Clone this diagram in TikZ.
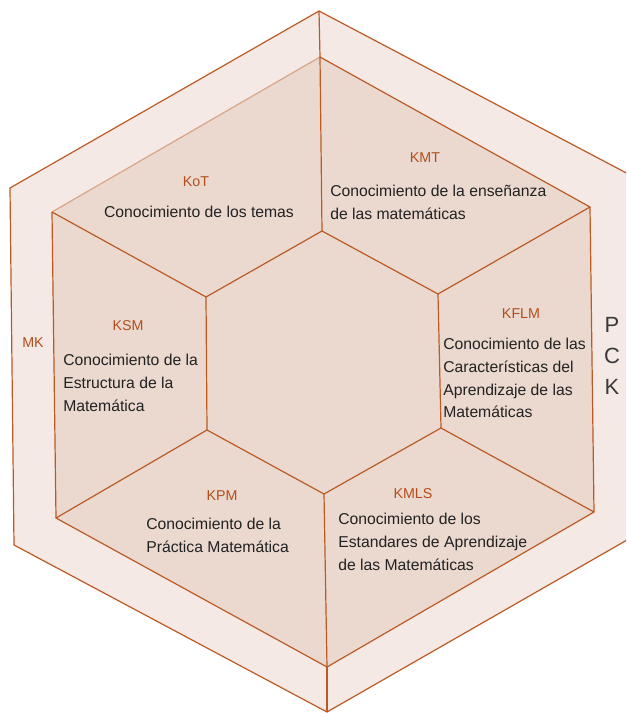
\documentclass[tikz,border=0pt]{standalone}
\usepackage{fontspec}
\setmainfont{Liberation Sans}
\usetikzlibrary{positioning}
\definecolor{banda}{HTML}{F4E9E4}
\definecolor{relleno}{HTML}{EBD9CF}
\definecolor{linea}{HTML}{BC5A24}
\definecolor{rotulo}{HTML}{B24E1C}
\definecolor{texto}{HTML}{222222}
\definecolor{letra}{HTML}{3A3A3A}

\begin{document}
\begin{tikzpicture}[x=0.75pt, y=-0.75pt,
    lin/.style={draw=linea, line width=0.9pt, line join=miter},
    sig/.style={font=\fontsize{10.7}{13}\selectfont, text=rotulo, inner sep=0pt},
    txt/.style={font=\fontsize{11.8}{17}\selectfont, text=texto, align=left,
                inner sep=0pt, anchor=north west},
    pck/.style={font=\fontsize{16.5}{23.5}\selectfont, text=letra, align=center,
                inner sep=0pt},
  ]
  \useasboundingbox (0,0) rectangle (626,713);
  \clip (0,0) rectangle (626,713);

  % =============== VERTICES ============================================
  % --- Hexagono exterior (MK / PCK) ---
  \coordinate (e1) at (319,11);
  \coordinate (e2) at (634,177);
  \coordinate (e3) at (634,536);
  \coordinate (e4) at (327,712);
  \coordinate (e5) at (14,545);
  \coordinate (e6) at (10,188);
  % --- Hexagono medio ---
  \coordinate (m1) at (320,57);
  \coordinate (m2) at (590,207);
  \coordinate (m3) at (594,512);
  \coordinate (m4) at (327,667);
  \coordinate (m5) at (56,518);
  \coordinate (m6) at (52,212);
  % --- Hexagono central ---
  \coordinate (c1) at (322,231);
  \coordinate (c2) at (438,294);
  \coordinate (c3) at (441,428);
  \coordinate (c4) at (324,494);
  \coordinate (c5) at (207,430);
  \coordinate (c6) at (206,297);

  % =============== RELLENOS ============================================
  \filldraw[lin, fill=banda] (e1) -- (e2) -- (e3) -- (e4) -- (e5) -- (e6) -- cycle;
  \fill[relleno] (m1) -- (m2) -- (m3) -- (m4) -- (m5) -- (m6) -- cycle;

  % =============== LINEAS ==============================================
  \draw[lin] (m1) -- (m2) -- (m3) -- (m4) -- (m5) -- (m6);
  \draw[lin, draw=linea!55] (m6) -- (m1);
  \draw[lin] (c1) -- (c2) -- (c3) -- (c4) -- (c5) -- (c6) -- cycle;
  % --- Radios ---
  \draw[lin] (e1) -- (m1);
  \draw[lin] (m4) -- (e4);
  \draw[lin] (m1) -- (c1);
  \draw[lin] (m2) -- (c2);
  \draw[lin] (m3) -- (c3);
  \draw[lin] (c4) -- (m4);
  \draw[lin] (m5) -- (c5);
  \draw[lin] (m6) -- (c6);

  % =============== TEXTOS ==============================================
  \node[sig] (kot) at (196,182) {KoT};
  \node[txt, anchor=center] (kotT) at (199,212) {Conocimiento de los temas};

  \node[sig] (kmt) at (425,158) {KMT};
  \node[txt] (kmtT) at (330,185) {Conocimiento de la enseñanza\\de las matemáticas};

  \node[sig] (ksm) at (128,326) {KSM};
  \node[txt] (ksmT) at (63,354) {Conocimiento de la\\Estructura de la\\Matemática};

  \node[sig] (kflm) at (521,314) {KFLM};
  \node[txt] (kflmT) at (443,338)
    {Conocimiento de las\\Características del\\Aprendizaje de las\\Matemáticas};

  \node[sig] (kpm) at (222,496) {KPM};
  \node[txt] (kpmT) at (146,518) {Conocimiento de la\\Práctica Matemática};

  \node[sig] (kmls) at (413,494) {KMLS};
  \node[txt] (kmlsT) at (338,513)
    {Conocimiento de los\\Estandares de Aprendizaje\\de las Matemáticas};

  \node[sig] (mk) at (33,343) {MK};
  \node[pck] (pck) at (612,356) {P\\C\\K};
\end{tikzpicture}
\end{document}
